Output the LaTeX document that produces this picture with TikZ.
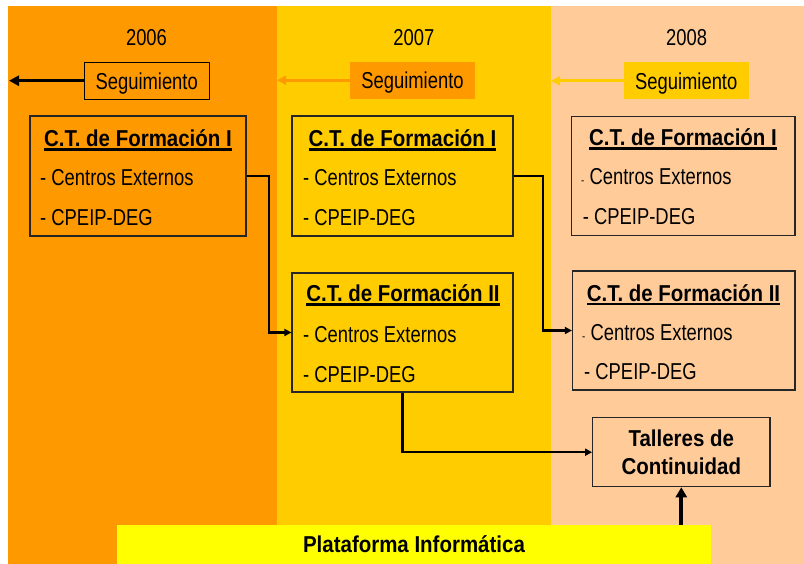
\documentclass[tikz,border=0pt]{standalone}
\usepackage{fontspec}
\setmainfont{Liberation Sans}[FakeStretch=0.80]
\newfontfamily\negrita{Liberation Sans}[FakeStretch=0.89]
\usetikzlibrary{arrows.meta}

\definecolor{naranja}{HTML}{FF9900}
\definecolor{amarillo}{HTML}{FFCC00}
\definecolor{durazno}{HTML}{FFCC99}
\definecolor{limon}{HTML}{FFFF00}

\newcommand{\letra}{\fontsize{23}{23}\selectfont}
\newcommand{\letranegra}{\negrita\bfseries\fontsize{23}{28}\selectfont}
\newcommand{\guion}{{\fontsize{12}{12}\selectfont -}~}
\newsavebox{\cajatexto}
\newcommand{\subrayado}[1]{\sbox{\cajatexto}{#1}\rlap{\usebox{\cajatexto}}\rule[-3.7pt]{\wd\cajatexto}{2.4pt}}

\tikzset{
	caja/.style={draw=black!85,line width=1.1pt,inner sep=0pt},
	seg/.style={inner sep=0pt,minimum width=125pt,minimum height=37pt,text height=17pt,text depth=0pt,font=\letra},
	linea/.style={inner sep=0pt,anchor=base west,font=\letra},
	titulo/.style={inner sep=0pt,anchor=base,font=\letranegra},
	anio/.style={inner sep=0pt,anchor=base,font=\letra},
	flecha/.style={line width=2.5pt,-{Triangle[length=7pt,width=7pt]}},
}

\begin{document}
\begin{tikzpicture}[x=1pt,y=-1pt]
	\useasboundingbox (0,0) rectangle (804,564);
	% columnas
	\fill[naranja] (8,6) rectangle (277,564);
	\fill[amarillo] (277,6) rectangle (551,564);
	\fill[durazno] (551,6) rectangle (804,564);

	\node[anio] (anio1) at (146.5,45.7) {2006};
	\node[anio] (anio2) at (413.8,45.7) {2007};
	\node[anio] (anio3) at (686.7,45.7) {2008};

	% seguimiento
	\node[seg,fill=naranja,draw=black,line width=1.2pt] (seg1) at (146.7,80.7) {Seguimiento};
	\node[seg,fill=naranja] (seg2) at (412.5,80.2) {Seguimiento};
	\node[seg,fill=amarillo] (seg3) at (686.2,80.8) {Seguimiento};
	\coordinate (fin1) at (9,80.7);
	\coordinate (fin2) at (277,80.2);
	\coordinate (fin3) at (551,80.8);
	\draw[line width=3pt,-{Triangle[length=10pt,width=10pt]}] (seg1) -- (fin1);
	\draw[naranja,line width=3pt,-{Triangle[length=9pt,width=9pt]}] (seg2) -- (fin2);
	\draw[amarillo,line width=3pt,-{Triangle[length=9pt,width=9pt]}] (seg3) -- (fin3);

	% C.T. de Formacion I
	\node[caja,fill=naranja,minimum width=216pt,minimum height=120pt] (ctIa) at (138,176) {};
	\node[titulo] (ctIa-t) at (138,147) {\subrayado{C.T. de Formación I}};
	\node[linea] (ctIa-1) at (40,186) {- Centros Externos};
	\node[linea] (ctIa-2) at (40,226) {- CPEIP-DEG};

	\node[caja,fill=amarillo,minimum width=221pt,minimum height=120pt] (ctIb) at (402.5,176) {};
	\node[titulo] (ctIb-t) at (402.5,147) {\subrayado{C.T. de Formación I}};
	\node[linea] (ctIb-1) at (303,186) {- Centros Externos};
	\node[linea] (ctIb-2) at (303,226) {- CPEIP-DEG};

	\node[caja,fill=durazno,minimum width=223.5pt,minimum height=119.5pt] (ctIc) at (683.2,176.2) {};
	\node[titulo] (ctIc-t) at (683,146) {\subrayado{C.T. de Formación I}};
	\node[linea] (ctIc-1) at (581,185) {\guion Centros Externos};
	\node[linea] (ctIc-2) at (582.7,225) {- CPEIP-DEG};

	% C.T. de Formacion II
	\node[caja,fill=amarillo,minimum width=221pt,minimum height=119pt] (ctIIb) at (402.5,332.5) {};
	\node[titulo] (ctIIb-t) at (403,302) {\subrayado{C.T. de Formación II}};
	\node[linea] (ctIIb-1) at (303,342.7) {- Centros Externos};
	\node[linea] (ctIIb-2) at (303,382.7) {- CPEIP-DEG};

	\node[caja,fill=durazno,minimum width=222.5pt,minimum height=119pt] (ctIIc) at (683.7,330.5) {};
	\node[titulo] (ctIIc-t) at (683.5,301.7) {\subrayado{C.T. de Formación II}};
	\node[linea] (ctIIc-1) at (582,340.7) {\guion Centros Externos};
	\node[linea] (ctIIc-2) at (584,380) {- CPEIP-DEG};

	\node[caja,fill=durazno,minimum width=177.3pt,minimum height=69pt,align=center,font=\letranegra] (talleres) at (681.3,452.2) {Talleres de\\Continuidad};

	\node[fill=limon,inner sep=0pt,minimum width=594pt,minimum height=39pt,font=\letranegra] (plataforma) at (414,544.5) {Plataforma Informática};

	% conectores
	\draw[flecha] (ctIa.east) -- (269,176) |- (ctIIb.west);
	\draw[flecha] (ctIb.east) -- (543,176) |- (ctIIc.west);
	\draw[flecha] (ctIIb.south) |- (talleres.west);
	\draw[line width=4pt,-{Triangle[length=10pt,width=11pt]}] (plataforma.north -| talleres.south) -- (talleres.south);
\end{tikzpicture}
\end{document}
